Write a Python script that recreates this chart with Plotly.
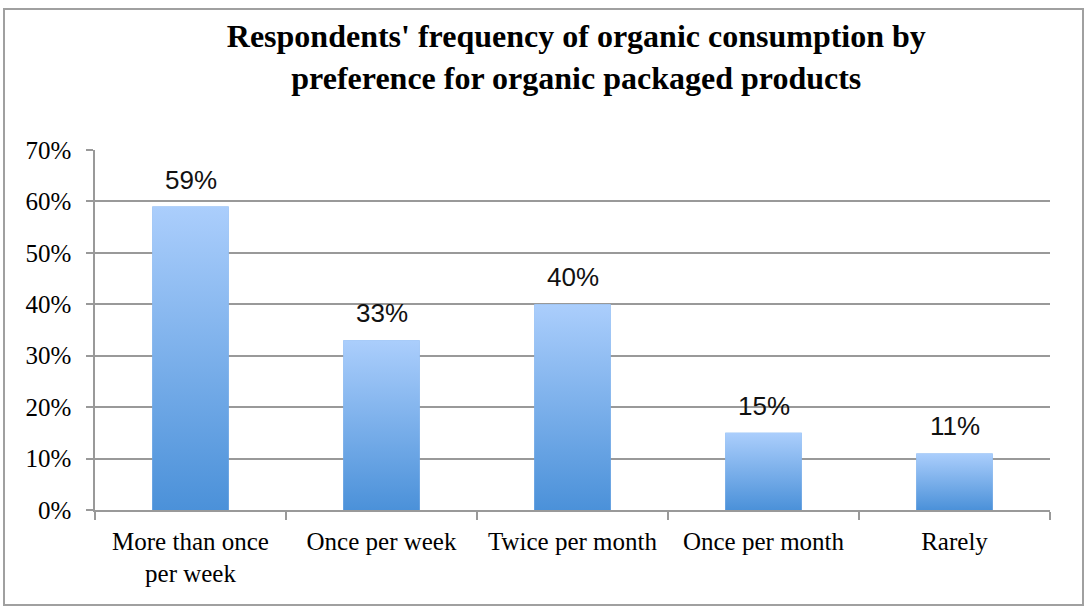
import plotly.graph_objects as go

categories = ["More than once<br>per week", "Once per week", "Twice per month", "Once per month", "Rarely"]
values = [59, 33, 40, 15, 11]
tick_vals = [0, 10, 20, 30, 40, 50, 60, 70]
tick_text = ["0%", "10%", "20%", "30%", "40%", "50%", "60%", "70%"]
title_text = "Respondents' frequency of organic consumption by<br>preference for organic packaged products"

BAR_W = 0.4
TOP_C = "#abcefc"
BOT_C = "#4b91d9"
GRID_C = "#999999"

fig = go.Figure()

# base bars (categorical axis)
fig.add_trace(go.Bar(
    x=categories, y=values, width=BAR_W,
    marker=dict(color="#7aaeea", line=dict(width=0)),
    hoverinfo="skip", showlegend=False,
))

# gradient overlay for each bar, on a hidden numeric axis aligned with the categories
for i, v in enumerate(values):
    x0, x1 = i - BAR_W / 2, i + BAR_W / 2
    fig.add_trace(go.Scatter(
        x=[x0, x1, x1, x0, x0], y=[0, 0, v, v, 0],
        xaxis="x2", mode="lines", line=dict(width=0),
        fill="toself",
        fillgradient=dict(type="vertical", colorscale=[[0, BOT_C], [1, TOP_C]]),
        hoverinfo="skip", showlegend=False,
    ))

for c, v in zip(categories, values):
    fig.add_annotation(
        x=c, y=v, xref="x", yref="y", text=f"{v}%", showarrow=False,
        yanchor="bottom", yshift=10,
        font=dict(family="Liberation Sans", size=26, color="#111111"),
    )

fig.update_layout(
    width=1086, height=614,
    margin=dict(l=95, r=36, t=150, b=104),
    paper_bgcolor="white", plot_bgcolor="white",
    title=dict(
        text=title_text, x=0.504, xref="paper", xanchor="center",
        y=1 - 47 / 614, yref="container", yanchor="middle",
        font=dict(family="Liberation Serif", size=32, color="black", weight="bold"),
    ),
    xaxis=dict(
        type="category", tickson="boundaries", ticks="outside", ticklen=8,
        tickcolor=GRID_C, tickwidth=1.5, showline=True, linecolor=GRID_C, linewidth=1.5,
        showgrid=False, range=[-0.5, 4.5], ticklabelstandoff=8,
        tickfont=dict(family="Liberation Serif", size=25, color="black"),
    ),
    xaxis2=dict(overlaying="x", range=[-0.5, 4.5], visible=False),
    yaxis=dict(
        range=[0, 70], tickvals=tick_vals, ticktext=tick_text,
        ticks="outside", ticklen=7, tickcolor=GRID_C, tickwidth=1.5,
        showline=True, linecolor=GRID_C, linewidth=1.5,
        showgrid=True, gridcolor=GRID_C, gridwidth=1.5, zeroline=False,
        ticklabelstandoff=10,
        tickfont=dict(family="Liberation Serif", size=25, color="black"),
    ),
    shapes=[dict(
        type="rect", xref="paper", yref="paper",
        x0=(4 - 95) / 955, x1=(1083 - 95) / 955,
        y0=(510 - 605) / 360, y1=(510 - 9) / 360,
        line=dict(color="#a0a0a0", width=2), fillcolor="rgba(0,0,0,0)", layer="below",
    )],
    showlegend=False,
)

fig.write_html(
    "out.html",
    config={"displayModeBar": False},
    post_script="document.body.style.margin='0';document.body.style.overflow='hidden';",
)
